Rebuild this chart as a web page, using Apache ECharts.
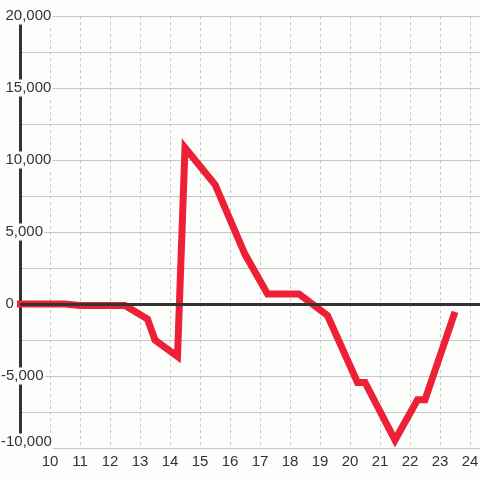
<!DOCTYPE html>
<html>
<head>
<meta charset="utf-8">
<script src="https://cdn.jsdelivr.net/npm/echarts@6/dist/echarts.min.js"></script>
<style>
  html, body { margin: 0; padding: 0; background: #fcfefc; }
  #chart { width: 480px; height: 480px; }
</style>
</head>
<body>
<div id="chart"></div>
<script>
// hour of day (x) and value (y)
const hours = [8.9, 10.5, 11, 12.5, 13.25, 13.5, 14.25, 14.5, 15.5, 16.5, 17.25, 18.3, 19.25, 20.25, 20.5, 21.5, 22.25, 22.5, 23.5];
const values = [0, 0, -100, -100, -1050, -2500, -3650, 10850, 8300, 3450, 700, 700, -800, -5450, -5450, -9450, -6650, -6650, -550];

const yTicks = { min: -10000, max: 20000, step: 5000 };
const xTicks = { min: 9, max: 24.3333, step: 1 };

const gridGray = '#c8c8c8';
const inkColor = '#333';
const lineRed = '#ee2036';

const chart = echarts.init(document.getElementById('chart'));

const points = hours.map((h, i) => [h, values[i]]);

chart.setOption({
  animation: false,
  backgroundColor: '#fcfefc',
  textStyle: { fontFamily: '"Liberation Sans", Arial, sans-serif' },
  grid: { left: 20, right: 0, top: 16, bottom: 32, containLabel: false, outerBoundsMode: 'none' },
  xAxis: {
    type: 'value',
    min: xTicks.min,
    max: xTicks.max,
    interval: xTicks.step,
    axisLine: { show: false },
    axisTick: { show: false },
    axisLabel: {
      color: inkColor,
      fontSize: 15,
      margin: 6,
      showMinLabel: false,
      showMaxLabel: false
    },
    splitLine: {
      show: true,
      lineStyle: { color: gridGray, width: 1, type: [3, 3] }
    }
  },
  yAxis: {
    type: 'value',
    min: yTicks.min,
    max: yTicks.max,
    interval: yTicks.step,
    axisLine: { show: true, lineStyle: { color: inkColor, width: 3 } },
    axisTick: { show: false },
    axisLabel: {
      color: inkColor,
      fontSize: 15,
      align: 'left',
      margin: 20,
      padding: [1, 1],
      backgroundColor: '#fcfefc',
      formatter: (v) => {
        const txt = echarts.format.addCommas(v);
        if (v === yTicks.min) return '{low|' + txt + '}';
        return v >= 0 ? '{sp|\u00a0}' + txt : txt;
      },
      rich: {
        sp: { width: 4.5, fontSize: 15 },
        low: { fontSize: 15, color: inkColor, padding: [0, 0, 12, 0] }
      }
    },
    splitLine: { lineStyle: { color: gridGray, width: 1 } },
    minorTick: { show: false, splitNumber: 2 },
    minorSplitLine: { show: true, lineStyle: { color: gridGray, width: 1 } }
  },
  series: [
    {
      name: 'zero',
      type: 'line',
      z: 1,
      data: [],
      markLine: {
        silent: true,
        symbol: 'none',
        label: { show: false },
        lineStyle: { color: inkColor, width: 3, type: 'solid' },
        data: [{ yAxis: 0 }]
      }
    },
    {
      name: 'value',
      type: 'line',
      z: 3,
      clip: false,
      symbol: 'none',
      data: points,
      lineStyle: { color: lineRed, width: 7, join: 'miter' }
    }
  ]
});
</script>
</body>
</html>
